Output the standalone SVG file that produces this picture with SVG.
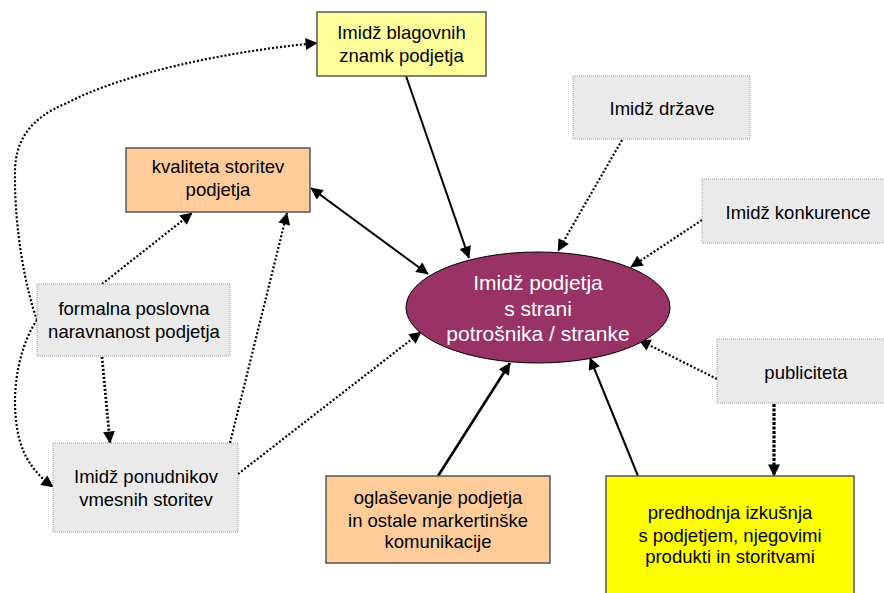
<svg xmlns="http://www.w3.org/2000/svg" width="884" height="593" viewBox="0 0 884 593">
  <style>
    .lbl { font-family: "Liberation Sans", Arial, sans-serif; font-size: 18.5px; fill: #000; text-anchor: middle; }
    .center-lbl { font-family: "Liberation Sans", Arial, sans-serif; font-size: 21px; fill: #fff; text-anchor: middle; }
    .solid-box { stroke: #555; stroke-width: 1.5; }
    .grey-box { fill: #eaeaea; stroke: #999; stroke-width: 1; stroke-dasharray: 1 1; }
    .solid { fill: none; stroke: #000; stroke-width: 2; }
    .dotted { fill: none; stroke: #000; stroke-width: 2.2; stroke-dasharray: 2 2; }
    .dotted-heavy { fill: none; stroke: #000; stroke-width: 3.2; stroke-dasharray: 3 1.5; }
  </style>
  <defs>
    <marker id="arrow" viewBox="0 0 10 10" refX="9.5" refY="5" markerWidth="13" markerHeight="12" markerUnits="userSpaceOnUse" orient="auto-start-reverse">
      <path d="M0,0 L10,5 L0,10 z" fill="#000"/>
    </marker>
  </defs>

  <rect width="884" height="593" fill="#fff"/>

  <!-- connectors -->
  <g id="connectors">
    <line class="solid" x1="406" y1="76" x2="469" y2="258" marker-end="url(#arrow)"/>
    <line class="solid" x1="311" y1="188" x2="428" y2="274" marker-start="url(#arrow)" marker-end="url(#arrow)"/>
    <line class="dotted" x1="622" y1="140" x2="558" y2="251" marker-end="url(#arrow)"/>
    <line class="dotted" x1="702" y1="220" x2="631" y2="267" marker-end="url(#arrow)"/>
    <line class="dotted" x1="717" y1="379" x2="639" y2="340" marker-end="url(#arrow)"/>
    <line class="dotted-heavy" x1="774" y1="404" x2="774" y2="476" marker-end="url(#arrow)"/>
    <line class="solid" x1="638" y1="476" x2="590" y2="358" marker-end="url(#arrow)"/>
    <line class="solid" style="stroke-width:2.6" x1="438" y1="476" x2="510" y2="363" marker-end="url(#arrow)"/>
    <line class="dotted" x1="238" y1="474" x2="421" y2="332" marker-end="url(#arrow)"/>
    <line class="dotted" x1="230" y1="443" x2="287" y2="213" marker-end="url(#arrow)"/>
    <line class="dotted" x1="102" y1="284" x2="192" y2="213" marker-end="url(#arrow)"/>
    <line class="dotted" style="stroke-width:2.8" x1="102" y1="357" x2="110" y2="443" marker-end="url(#arrow)"/>
    <path class="dotted" d="M37,320 C26,290 14,230 15,170 C16,140 30,118 67,103 C120,75 220,52 317,43" marker-end="url(#arrow)"/>
    <path class="dotted" d="M37,320 C20,345 12,385 16,420 C19,450 30,470 53,487" marker-end="url(#arrow)"/>
  </g>

  <g id="blagovne-znamke">
    <rect class="solid-box" x="317" y="12" width="169" height="64" fill="#ffff99"/>
    <text class="lbl" x="401.5" y="39">Imidž blagovnih</text>
    <text class="lbl" x="401.5" y="62">znamk podjetja</text>
  </g>

  <g id="kvaliteta">
    <rect class="solid-box" x="126" y="148" width="184" height="64" fill="#ffcc99"/>
    <text class="lbl" x="218" y="173">kvaliteta storitev</text>
    <text class="lbl" x="218" y="196">podjetja</text>
  </g>

  <g id="drzava">
    <rect class="grey-box" x="573" y="76" width="177" height="63"/>
    <text class="lbl" x="662" y="115">Imidž države</text>
  </g>

  <g id="konkurenca">
    <rect class="grey-box" x="702" y="179" width="200" height="64"/>
    <text class="lbl" x="798" y="219">Imidž konkurence</text>
  </g>

  <g id="imidz-podjetja">
    <ellipse cx="538" cy="307.5" rx="132" ry="55.5" fill="#993366" stroke="#000" stroke-width="1"/>
    <text class="center-lbl" x="538" y="290">Imidž podjetja</text>
    <text class="center-lbl" x="538" y="316">s strani</text>
    <text class="center-lbl" x="538" y="341">potrošnika / stranke</text>
  </g>

  <g id="formalna">
    <rect class="grey-box" x="37" y="284" width="193" height="72"/>
    <text class="lbl" x="134" y="315">formalna poslovna</text>
    <text class="lbl" x="134" y="338">naravnanost podjetja</text>
  </g>

  <g id="ponudniki">
    <rect class="grey-box" x="53" y="443" width="185" height="89"/>
    <text class="lbl" x="146" y="483">Imidž ponudnikov</text>
    <text class="lbl" x="146" y="506">vmesnih storitev</text>
  </g>

  <g id="publiciteta">
    <rect class="grey-box" x="717" y="339" width="190" height="64"/>
    <text class="lbl" x="806" y="379">publiciteta</text>
  </g>

  <g id="oglasevanje">
    <rect class="solid-box" x="326" y="476" width="224" height="87" fill="#ffcc99"/>
    <text class="lbl" x="438" y="504">oglaševanje podjetja</text>
    <text class="lbl" x="438" y="527">in ostale markertinške</text>
    <text class="lbl" x="438" y="548">komunikacije</text>
  </g>

  <g id="izkusnja">
    <rect class="solid-box" x="606" y="476" width="248" height="130" fill="#ffff00"/>
    <text class="lbl" x="730" y="519">predhodnja izkušnja</text>
    <text class="lbl" x="730" y="542">s podjetjem, njegovimi</text>
    <text class="lbl" x="730" y="563">produkti in storitvami</text>
  </g>
</svg>
